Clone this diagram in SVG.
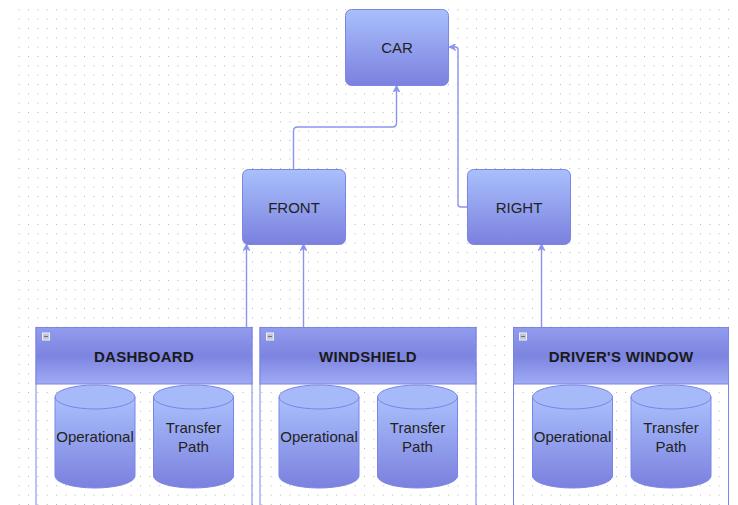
<svg xmlns="http://www.w3.org/2000/svg" width="738" height="505" viewBox="0 0 738 505">
<defs>
<style>
.node{stroke:#7b85e6;stroke-width:1;fill:url(#gNode)}
.cont{fill:none;stroke:#7b85e6;stroke-width:1}
.hdr{fill:url(#gHdr);stroke:#7b85e6;stroke-width:1}
.cyl{fill:url(#gNode);stroke:#7b85e6;stroke-width:1}
.cyltop{fill:#a6b9f9;stroke:#7b85e6;stroke-width:1}
.lbl{font-family:"Liberation Sans",Arial,sans-serif;font-size:15px;fill:#222;text-anchor:middle}
.ttl{font-family:"Liberation Sans",Arial,sans-serif;font-size:15px;font-weight:bold;fill:#1a1a1a;text-anchor:middle;letter-spacing:0.3px}
.edge{fill:none;stroke:#8a94ef;stroke-width:1.4;marker-end:url(#arr)}
.icon{fill:#c4c6d4;stroke:#eef0f8;stroke-width:1}
.icond{stroke:#6e7080;stroke-width:1}
</style>
<linearGradient id="gNode" x1="0" y1="0" x2="0" y2="1">
<stop offset="0" stop-color="#a9c0fc"/>
<stop offset="1" stop-color="#7b80de"/>
</linearGradient>
<linearGradient id="gHdr" x1="0" y1="0" x2="0" y2="1">
<stop offset="0" stop-color="#929cee"/>
<stop offset="0.5" stop-color="#7c84e0"/>
<stop offset="1" stop-color="#a0abf5"/>
</linearGradient>
<pattern id="grid" x="0" y="0" width="9.333" height="9.333" patternUnits="userSpaceOnUse">
<rect x="0" y="0" width="1" height="1" fill="#b4b4b4"/>
</pattern>
<marker id="arr" viewBox="0 0 10 10" refX="9" refY="5" markerWidth="7" markerHeight="7" markerUnits="userSpaceOnUse" orient="auto">
<path d="M0,0 L10,5 L0,10 L3,5 z" fill="#8a94ef" stroke="#8a94ef" stroke-width="1"/>
</marker>
</defs>
<rect width="738" height="505" fill="#ffffff"/>
<rect x="14" y="5" width="720" height="500" fill="url(#grid)"/>

<g id="connectors">
<path class="edge" d="M293.5,169 V131 Q293.5,127 297.5,127 H392.5 Q396.5,127 396.5,123 V86"/>
<path class="edge" d="M467,207 H461 Q458,207 458,204 V50 Q458,47 455,47 H449.5"/>
<path class="edge" d="M246.5,327 V244.5"/>
<path class="edge" d="M303.5,327 V244.5"/>
<path class="edge" d="M541.5,327 V244.5"/>
</g>

<g id="car">
<rect class="node" x="345.5" y="9.5" width="103" height="76" rx="6"/>
<text class="lbl" x="397" y="53">CAR</text>
</g>
<g id="front">
<rect class="node" x="242.5" y="169.5" width="103" height="75" rx="6"/>
<text class="lbl" x="294" y="213">FRONT</text>
</g>
<g id="right">
<rect class="node" x="467.5" y="169.5" width="103" height="75" rx="6"/>
<text class="lbl" x="519" y="213">RIGHT</text>
</g>

<g id="dashboard">
<rect class="cont" x="36" y="327.5" width="216" height="200"/>
<rect class="hdr" x="36" y="327.5" width="216" height="56.5"/>
<rect class="icon" x="42.5" y="333" width="7" height="7"/>
<line class="icond" x1="44" y1="336.5" x2="48" y2="336.5"/>
<text class="ttl" x="144" y="361.5">DASHBOARD</text>
<g id="dashboard-operational">
<path class="cyl" d="M55,397 V476 A40,12 0 0 0 135,476 V397"/>
<ellipse class="cyltop" cx="95" cy="397" rx="40" ry="12"/>
<text class="lbl" x="95" y="442">Operational</text>
</g>
<g id="dashboard-transfer">
<path class="cyl" d="M153.5,397 V476 A40,12 0 0 0 233.5,476 V397"/>
<ellipse class="cyltop" cx="193.5" cy="397" rx="40" ry="12"/>
<text class="lbl" x="193.5" y="432.5">Transfer</text>
<text class="lbl" x="193.5" y="451.5">Path</text>
</g>
</g>

<g id="windshield">
<rect class="cont" x="260" y="327.5" width="216" height="200"/>
<rect class="hdr" x="260" y="327.5" width="216" height="56.5"/>
<rect class="icon" x="266.5" y="333" width="7" height="7"/>
<line class="icond" x1="268" y1="336.5" x2="272" y2="336.5"/>
<text class="ttl" x="368" y="361.5">WINDSHIELD</text>
<g id="windshield-operational">
<path class="cyl" d="M279,397 V476 A40,12 0 0 0 359,476 V397"/>
<ellipse class="cyltop" cx="319" cy="397" rx="40" ry="12"/>
<text class="lbl" x="319" y="442">Operational</text>
</g>
<g id="windshield-transfer">
<path class="cyl" d="M377.5,397 V476 A40,12 0 0 0 457.5,476 V397"/>
<ellipse class="cyltop" cx="417.5" cy="397" rx="40" ry="12"/>
<text class="lbl" x="417.5" y="432.5">Transfer</text>
<text class="lbl" x="417.5" y="451.5">Path</text>
</g>
</g>

<g id="drivers-window">
<rect class="cont" x="513.5" y="327.5" width="215" height="200"/>
<rect class="hdr" x="513.5" y="327.5" width="215" height="56.5"/>
<rect class="icon" x="519.5" y="333" width="7" height="7"/>
<line class="icond" x1="521" y1="336.5" x2="525" y2="336.5"/>
<text class="ttl" x="621" y="361.5">DRIVER'S WINDOW</text>
<g id="drivers-window-operational">
<path class="cyl" d="M532.5,397 V476 A40,12 0 0 0 612.5,476 V397"/>
<ellipse class="cyltop" cx="572.5" cy="397" rx="40" ry="12"/>
<text class="lbl" x="572.5" y="442">Operational</text>
</g>
<g id="drivers-window-transfer">
<path class="cyl" d="M631,397 V476 A40,12 0 0 0 711,476 V397"/>
<ellipse class="cyltop" cx="671" cy="397" rx="40" ry="12"/>
<text class="lbl" x="671" y="432.5">Transfer</text>
<text class="lbl" x="671" y="451.5">Path</text>
</g>
</g>
</svg>
